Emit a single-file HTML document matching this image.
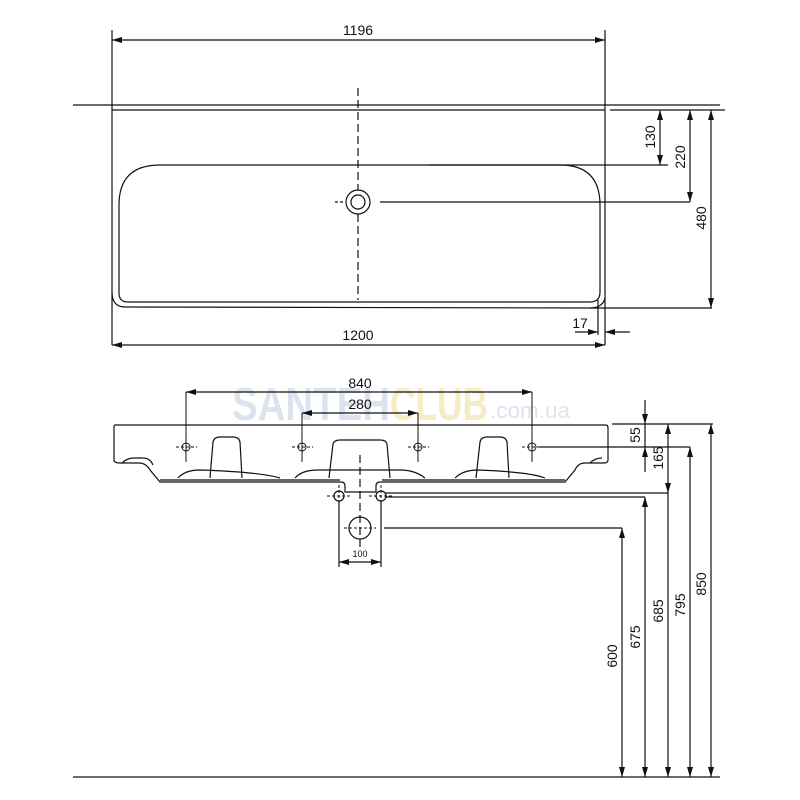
<!DOCTYPE html>
<html><head><meta charset="utf-8"><style>
html,body{margin:0;padding:0;background:#fff}
svg{display:block}
text{font-family:"Liberation Sans",sans-serif;fill:#111}
</style></head><body>
<svg width="800" height="800" viewBox="0 0 800 800" xmlns="http://www.w3.org/2000/svg">
<defs>
<marker id="a" viewBox="0 0 10 6" refX="10" refY="3" markerWidth="10" markerHeight="6" orient="auto-start-reverse" markerUnits="userSpaceOnUse"><path d="M0,0L10,3L0,6z" fill="#111"/></marker>
</defs>
<text x="232" y="420" font-size="46" font-weight="bold" textLength="158" lengthAdjust="spacingAndGlyphs" style="fill:#dbe4ee">SANTEH</text>
<text x="390" y="420" font-size="46" font-weight="bold" textLength="98" lengthAdjust="spacingAndGlyphs" style="fill:#f6ecc6">CLUB</text>
<text x="490" y="418" font-size="22" textLength="80" lengthAdjust="spacingAndGlyphs" style="fill:#dbe4ee">.com.ua</text>
<g stroke="#111" stroke-width="1.2" fill="none">
<line x1="112" y1="30" x2="112" y2="110"/>
<line x1="605" y1="30" x2="605" y2="345"/>
<line x1="112" y1="40" x2="605" y2="40" marker-start="url(#a)" marker-end="url(#a)"/>
<line x1="73" y1="105" x2="720" y2="105"/>
<line x1="112" y1="110" x2="605" y2="110"/>
<line x1="610" y1="110" x2="725" y2="110"/>
<line x1="112" y1="110" x2="112" y2="345"/>
<path d="M112,292 Q112,307 125,307 L592,308 Q603,307 605,298"/>
<path d="M160,165 L560,165 Q600,165 600,205 L600,292 Q600,302 590,302 L128,302 Q119,302 119,293 L119,205 Q119,165 160,165Z"/>
<line x1="112" y1="345" x2="605" y2="345" marker-start="url(#a)" marker-end="url(#a)"/>
<line x1="358" y1="88" x2="358" y2="190" stroke-dasharray="8,4"/>
<line x1="358" y1="214" x2="358" y2="300" stroke-dasharray="8,4"/>
<line x1="335" y1="202" x2="345" y2="202" stroke-dasharray="3,2"/>
<circle cx="358" cy="202" r="12"/><circle cx="358" cy="202" r="7"/>
<line x1="380" y1="202" x2="690" y2="202"/>
<line x1="430" y1="165" x2="668" y2="165"/>
<line x1="660" y1="110" x2="660" y2="165" marker-start="url(#a)" marker-end="url(#a)"/>
<line x1="690" y1="110" x2="690" y2="202" marker-start="url(#a)" marker-end="url(#a)"/>
<line x1="711" y1="110" x2="711" y2="308" marker-start="url(#a)" marker-end="url(#a)"/>
<line x1="590" y1="308" x2="712" y2="308"/>
<line x1="598" y1="300" x2="598" y2="335"/>
<line x1="575" y1="332" x2="598" y2="332" marker-end="url(#a)"/>
<line x1="630" y1="332" x2="605" y2="332" marker-end="url(#a)"/>
<line x1="186" y1="392" x2="532" y2="392" marker-start="url(#a)" marker-end="url(#a)"/>
<line x1="186" y1="392" x2="186" y2="462" stroke-width="1"/>
<line x1="532" y1="392" x2="532" y2="462" stroke-width="1"/>
<line x1="302" y1="413" x2="418" y2="413" marker-start="url(#a)" marker-end="url(#a)"/>
<line x1="302" y1="413" x2="302" y2="462" stroke-width="1"/>
<line x1="418" y1="413" x2="418" y2="462" stroke-width="1"/>
<path d="M115,425 L606,425 Q608,425 608,428 L608,460 Q608,463 604,463 L585,463 Q578,463 575,470 L565,482 L400,482 L380,482 Q376,482 376,486 L376,492 L345,492 L345,486 Q345,482 341,482 L160,482 L150,470 Q146,463 139,463 L120,463 Q114,463 114,460 L114,428 Q114,425 115,425Z"/>
<path d="M122,463 Q127,458 134,458 L143,458 Q150,458 153,465"/>
<path d="M590,463 Q595,458 602,458"/>
<path d="M210,478 L213,442 Q214,437 220,437 L233,437 Q239,437 240,442 L242,478"/>
<path d="M329,478 L333,444 Q334,440 340,440 L380,440 Q386,440 387,444 L390,478"/>
<path d="M476,478 L480,442 Q481,437 487,437 L500,437 Q506,437 507,442 L509,478"/>
<path d="M178,478 Q185,470 200,470 Q260,472 280,478"/>
<path d="M295,478 Q302,470 318,470 L400,470 Q415,470 425,478"/>
<path d="M455,478 Q463,470 478,470 Q530,472 545,478"/>
<line x1="160" y1="480" x2="340" y2="480" stroke="#666" stroke-width="2"/>
<line x1="382" y1="480" x2="565" y2="480" stroke="#666" stroke-width="2"/>
<g stroke-width="1" stroke-dasharray="3,2">
<line x1="176" y1="447" x2="197" y2="447"/><line x1="292" y1="447" x2="313" y2="447"/><line x1="408" y1="447" x2="429" y2="447"/><line x1="522" y1="447" x2="543" y2="447"/>
</g>
<g stroke-width="1"><circle cx="186" cy="447" r="4"/><circle cx="302" cy="447" r="4"/><circle cx="418" cy="447" r="4"/><circle cx="532" cy="447" r="4"/></g>
<line x1="540" y1="447" x2="690" y2="447"/>
<line x1="612" y1="424" x2="713" y2="424"/>
<line x1="645" y1="400" x2="645" y2="424" marker-end="url(#a)"/>
<line x1="645" y1="472" x2="645" y2="447" marker-end="url(#a)"/>
<line x1="645" y1="424" x2="645" y2="447"/>
<line x1="668" y1="424" x2="668" y2="493" marker-start="url(#a)" marker-end="url(#a)"/>
<line x1="385" y1="493" x2="668" y2="493"/>
<line x1="386" y1="497" x2="645" y2="497"/>
<line x1="384" y1="528" x2="622" y2="528"/>
<line x1="622" y1="528" x2="622" y2="777" marker-start="url(#a)" marker-end="url(#a)"/>
<line x1="645" y1="497" x2="645" y2="777" marker-start="url(#a)" marker-end="url(#a)"/>
<line x1="668" y1="493" x2="668" y2="777" marker-end="url(#a)"/>
<line x1="690" y1="447" x2="690" y2="777" marker-start="url(#a)" marker-end="url(#a)"/>
<line x1="711" y1="424" x2="711" y2="777" marker-start="url(#a)" marker-end="url(#a)"/>
<line x1="73" y1="777" x2="720" y2="777"/>
<line x1="360" y1="455" x2="360" y2="550" stroke-dasharray="8,4"/>
<line x1="339" y1="501" x2="339" y2="567"/>
<line x1="381" y1="501" x2="381" y2="567"/>
<circle cx="339" cy="496" r="5"/><circle cx="381" cy="496" r="5"/>
<circle cx="360" cy="528" r="11"/>
<g stroke-width="1" stroke-dasharray="3,2"><line x1="327" y1="496" x2="351" y2="496"/><line x1="369" y1="496" x2="393" y2="496"/><line x1="344" y1="528" x2="376" y2="528"/><line x1="339" y1="485" x2="339" y2="508"/><line x1="381" y1="485" x2="381" y2="508"/></g>
<line x1="339" y1="562" x2="381" y2="562" marker-start="url(#a)" marker-end="url(#a)"/>
</g>
<text x="358" y="35" font-size="14" text-anchor="middle">1196</text>
<text x="358" y="340" font-size="14" text-anchor="middle">1200</text>
<text x="580" y="328" font-size="14" text-anchor="middle">17</text>
<text transform="translate(655,137) rotate(-90)" font-size="14" text-anchor="middle">130</text>
<text transform="translate(685,157) rotate(-90)" font-size="14" text-anchor="middle">220</text>
<text transform="translate(706,218) rotate(-90)" font-size="14" text-anchor="middle">480</text>
<text x="360" y="388" font-size="14" text-anchor="middle">840</text>
<text x="360" y="409" font-size="14" text-anchor="middle">280</text>
<text x="360" y="557" font-size="9" text-anchor="middle">100</text>
<text transform="translate(640,435) rotate(-90)" font-size="14" text-anchor="middle">55</text>
<text transform="translate(663,458) rotate(-90)" font-size="14" text-anchor="middle">165</text>
<text transform="translate(617,656) rotate(-90)" font-size="14" text-anchor="middle">600</text>
<text transform="translate(640,637) rotate(-90)" font-size="14" text-anchor="middle">675</text>
<text transform="translate(663,611) rotate(-90)" font-size="14" text-anchor="middle">685</text>
<text transform="translate(685,605) rotate(-90)" font-size="14" text-anchor="middle">795</text>
<text transform="translate(706,584) rotate(-90)" font-size="14" text-anchor="middle">850</text>
</svg>
</body></html>
